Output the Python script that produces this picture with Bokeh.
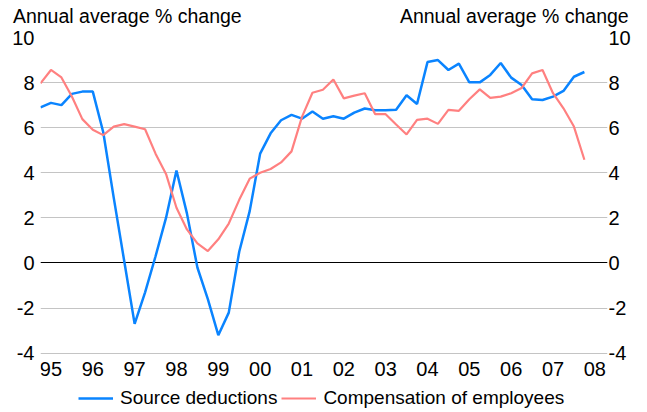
from bokeh.plotting import figure
from bokeh.models import Range1d, LinearAxis, FixedTicker, Grid, Legend, LegendItem
from bokeh.embed import file_html
from bokeh.resources import INLINE

# Quarterly observations, 1994Q4 .. 2007Q4 (index 0 .. 52)
quarters = list(range(53))
source_deductions = [
    6.9, 7.1, 7.0, 7.5, 7.6, 7.6, 5.8, 2.9, 0.1, -2.7,
    -1.3, 0.3, 2.0, 4.1, 2.2, -0.2, -1.6, -3.2, -2.2, 0.5,
    2.3, 4.85, 5.75, 6.33, 6.57, 6.4, 6.72, 6.4, 6.51, 6.4,
    6.67, 6.85, 6.77, 6.77, 6.8, 7.44, 7.05, 8.91, 9.0, 8.56,
    8.84, 8.01, 8.01, 8.34, 8.87, 8.22, 7.89, 7.26, 7.23, 7.38,
    7.63, 8.26, 8.47,
]
compensation_of_employees = [
    7.97, 8.56, 8.23, 7.38, 6.38, 5.91, 5.67, 6.05, 6.16, 6.05,
    5.93, 4.85, 3.95, 2.45, 1.49, 0.87, 0.53, 1.05, 1.75, 2.8,
    3.74, 4.0, 4.17, 4.46, 4.95, 6.48, 7.55, 7.68, 8.14, 7.3,
    7.42, 7.53, 6.6, 6.6, 6.14, 5.7, 6.35, 6.4, 6.17, 6.79,
    6.75, 7.26, 7.7, 7.32, 7.38, 7.53, 7.76, 8.41, 8.56, 7.53,
    6.86, 6.05, 4.58,
]
year_labels = ["95", "96", "97", "98", "99", "00", "01", "02", "03", "04", "05", "06", "07", "08"]
year_positions = [1 + 4 * k for k in range(len(year_labels))]  # Q1 of each year
y_ticks = [-4, -2, 0, 2, 4, 6, 8, 10]
y_tick_labels = ["-4", "-2", "0", "2", "4", "6", "8", "10"]
axis_title = "Annual average % change"
title_positions = [8.3, 45.3]  # left and right unit titles above the plot
plot_span = (0, 53.73)         # horizontal extent of the grid lines

FONT = "Liberation Sans"
TICK_FS = "20px"
TITLE_FS = "19.5px"
LEGEND_FS = "19px"

# the frame reaches below the -4 line so that the category labels and the
# legend sit inside it; grid lines and scale labels stop at -4
p = figure(
    width=647, height=412,
    output_backend="svg", toolbar_location=None,
    x_range=Range1d(0, 54.21), y_range=Range1d(-6.63, 10),
    min_border_left=40, min_border_right=40, min_border_top=37, min_border_bottom=0,
)
p.outline_line_color = None
p.background_fill_color = "white"
p.border_fill_color = "white"

def style_axis(ax, standoff, size=TICK_FS):
    ax.axis_line_color = None
    ax.major_tick_line_color = None
    ax.minor_tick_line_color = None
    ax.major_tick_out = 0
    ax.major_tick_in = 0
    ax.major_label_standoff = standoff
    ax.major_label_text_font = FONT
    ax.major_label_text_font_size = size
    ax.major_label_text_color = "black"

xax = p.xaxis[0]
style_axis(xax, 9)
xax.ticker = FixedTicker(ticks=year_positions)
xax.major_label_overrides = {pos: lab for pos, lab in zip(year_positions, year_labels)}
xax.fixed_location = y_ticks[0]

y_overrides = {t: lab for t, lab in zip(y_ticks, y_tick_labels)}

style_axis(p.yaxis[0], 6)
p.yaxis[0].ticker = FixedTicker(ticks=y_ticks)
p.yaxis[0].major_label_overrides = y_overrides

right_axis = LinearAxis(ticker=FixedTicker(ticks=y_ticks))
style_axis(right_axis, 1)
right_axis.major_label_overrides = y_overrides
p.add_layout(right_axis, "right")

# unit titles ("Annual average % change") over the left and right scales
top_axis = LinearAxis(ticker=FixedTicker(ticks=title_positions))
style_axis(top_axis, 11, TITLE_FS)
top_axis.major_label_overrides = {pos: axis_title for pos in title_positions}
p.add_layout(top_axis, "above")

p.xgrid.visible = False
p.ygrid.ticker = FixedTicker(ticks=y_ticks)
p.ygrid.grid_line_color = "#c4c4c4"
p.ygrid.grid_line_width = 1
p.ygrid.bounds = plot_span

zero_line = Grid(dimension=1, ticker=FixedTicker(ticks=[0]), bounds=plot_span,
                 grid_line_color="black", grid_line_width=1)
p.add_layout(zero_line)

r1 = p.line(quarters, source_deductions, line_color="#0a84ff", line_width=2.5)
r2 = p.line(quarters, compensation_of_employees, line_color="#ff8080", line_width=2.2)

legend = Legend(
    items=[LegendItem(label="Source deductions", renderers=[r1]),
           LegendItem(label="Compensation of employees", renderers=[r2])],
    orientation="horizontal", location=(38, 3),
    padding=0, margin=0, spacing=4, label_standoff=7,
    glyph_width=35, glyph_height=20,
    border_line_color=None, background_fill_alpha=0,
    label_text_font=FONT, label_text_font_size=LEGEND_FS, label_text_color="black",
)
p.add_layout(legend)

open("out.html", "w").write(file_html(p, INLINE))
